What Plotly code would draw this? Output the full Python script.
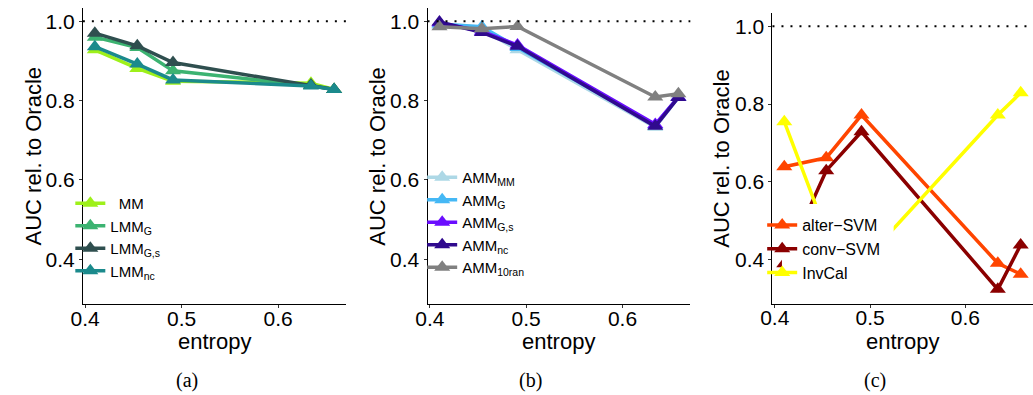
import plotly.graph_objects as go

# ---------------- data ----------------
entropy = [0.41, 0.454, 0.491, 0.634, 0.658]

# panel (a)
mm = [0.928, 0.881, 0.849, 0.844, 0.828]
lmm_g = [0.960, 0.934, 0.875, 0.838, 0.828]
lmm_gs = [0.970, 0.938, 0.896, 0.839, 0.828]
lmm_nc = [0.936, 0.892, 0.852, 0.837, 0.828]

# panel (b)
amm_mm = [0.990, 0.980, 0.928, 0.733, 0.808]
amm_g = [0.993, 0.986, 0.934, 0.738, 0.809]
amm_gs = [0.996, 0.975, 0.940, 0.740, 0.809]
amm_nc = [0.998, 0.972, 0.937, 0.735, 0.808]
amm_10ran = [0.986, 0.981, 0.987, 0.809, 0.817]

# panel (c)
alter_svm = [0.639, 0.662, 0.772, 0.391, 0.363]
conv_svm = [0.390, 0.629, 0.729, 0.324, 0.438]
invcal = [0.755, 0.470, 0.390, 0.772, 0.829]

x_ticks = [0.4, 0.5, 0.6]
y_ticks = [0.4, 0.6, 0.8, 1.0]
oracle_level = 1.0

W, H = 1033, 395
FONT = "Liberation Sans, Arial, sans-serif"

panels = [
    dict(xa="x", ya="y", legend="legend", series=[
        ("&nbsp;&nbsp;MM", mm, "#9EF01A"),
        ("LMM<sub>G</sub>", lmm_g, "#3CB371"),
        ("LMM<sub>G,s</sub>", lmm_gs, "#2F4F4F"),
        ("LMM<sub>nc</sub>", lmm_nc, "#1B8A8C"),
    ]),
    dict(xa="x2", ya="y2", legend="legend2", series=[
        ("AMM<sub>MM</sub>", amm_mm, "#ADD8E6"),
        ("AMM<sub>G</sub>", amm_g, "#45B8F5"),
        ("AMM<sub>G,s</sub>", amm_gs, "#6A0DFF"),
        ("AMM<sub>nc</sub>", amm_nc, "#300A8E"),
        ("AMM<sub>10ran</sub>", amm_10ran, "#808080"),
    ]),
    dict(xa="x3", ya="y3", legend="legend3", series=[
        ("alter\u2212SVM", alter_svm, "#FF4500"),
        ("conv\u2212SVM", conv_svm, "#8B0000"),
        ("InvCal", invcal, "#FFFF00"),
    ]),
]

fig = go.Figure()
for p in panels:
    for name, vals, col in p["series"]:
        fig.add_trace(go.Scatter(
            x=entropy, y=vals, name=name, mode="lines+markers",
            xaxis=p["xa"], yaxis=p["ya"], legend=p["legend"],
            line=dict(color=col, width=3.5),
            marker=dict(symbol="triangle-up", size=14, color=col),
        ))

def px_x(v):
    return v / W

def px_y(v):
    return 1 - v / H

xr = [0.3976, 0.6704]
yr = [0.286, 1.034]

def xaxis(domain, anchor):
    return dict(domain=domain, anchor=anchor, range=xr, showline=True,
                linecolor="black", linewidth=1, ticks="outside", ticklen=3,
                tickcolor="#333333", tickvals=x_ticks, tickformat=".1f",
                tickfont=dict(family=FONT, size=21, color="black"),
                showgrid=False, zeroline=False, ticklabelstandoff=-8)

def yaxis(domain, anchor):
    return dict(domain=domain, anchor=anchor, range=yr, showline=True,
                linecolor="black", linewidth=1, ticks="outside", ticklen=3,
                tickcolor="#333333", tickvals=y_ticks, tickformat=".1f",
                tickfont=dict(family=FONT, size=21, color="black"),
                showgrid=False, zeroline=False)

ydom_ab = [px_y(304.4), px_y(7.8)]
ydom_c = [px_y(304.1), px_y(13.1)]

fig.update_layout(
    width=W, height=H, margin=dict(l=0, r=0, t=0, b=0),
    paper_bgcolor="white", plot_bgcolor="white",
    font=dict(family=FONT, color="black"),
    xaxis=xaxis([px_x(71.7), px_x(338.0)], "y"),
    yaxis=yaxis(ydom_ab, "x"),
    xaxis2=xaxis([px_x(420.4), px_x(686.3)], "y2"),
    yaxis2=yaxis(ydom_ab, "x2"),
    xaxis3=xaxis([px_x(769.4), px_x(1032.5)], "y3"),
    yaxis3=yaxis(ydom_c, "x3"),
    legend=dict(x=px_x(59), y=px_y(187), xanchor="left", yanchor="top",
                bgcolor="rgba(0,0,0,0)", font=dict(family=FONT, size=15),
                itemwidth=30, tracegroupgap=0),
    legend2=dict(x=px_x(415), y=px_y(161), xanchor="left", yanchor="top",
                 bgcolor="rgba(0,0,0,0)", font=dict(family=FONT, size=15),
                 itemwidth=30, tracegroupgap=0),
    legend3=dict(x=px_x(759), y=px_y(208), xanchor="left", yanchor="top",
                 bgcolor="rgba(0,0,0,0)", font=dict(family=FONT, size=16),
                 itemwidth=30, tracegroupgap=0),
)

shapes = []
for xa, ya in [("x", "y"), ("x2", "y2"), ("x3", "y3")]:
    shapes.append(dict(type="line", xref=xa + " domain", yref=ya,
                       x0=0, x1=1, y0=oracle_level, y1=oracle_level,
                       line=dict(color="black", width=2, dash="2px,7px"),
                       layer="above"))
# white background of legend (c), hiding the lines under it
shapes.append(dict(type="rect", xref="paper", yref="paper",
                   x0=px_x(779), x1=px_x(892), y0=px_y(286), y1=px_y(204),
                   fillcolor="white", line=dict(width=0), layer="above"))
fig.update_layout(shapes=shapes)

ann = []
centers_x = [204.8, 553.3, 901.0]
ytitle_x = [21.7, 369.0, 717.5]
ytitle_y = [156.0, 156.0, 158.6]
captions = ["(a)", "(b)", "(c)"]
caption_x = [177.0, 525.0, 872.8]
for i in range(3):
    ann.append(dict(text="entropy", xref="paper", yref="paper",
                    x=px_x(centers_x[i]), y=px_y(341), showarrow=False,
                    xanchor="center", yanchor="middle",
                    font=dict(family=FONT, size=22, color="black")))
    ann.append(dict(text="AUC rel. to Oracle", xref="paper", yref="paper",
                    x=px_x(ytitle_x[i]), y=px_y(ytitle_y[i]), showarrow=False,
                    textangle=-90, xanchor="center", yanchor="middle",
                    font=dict(family=FONT, size=22, color="black")))
    ann.append(dict(text=captions[i], xref="paper", yref="paper",
                    x=px_x(caption_x[i]), y=px_y(380), showarrow=False,
                    xanchor="center", yanchor="middle",
                    font=dict(family="Liberation Serif, Times New Roman, serif",
                              size=20, color="black")))
fig.update_layout(annotations=ann)

fig.write_html("out.html")
